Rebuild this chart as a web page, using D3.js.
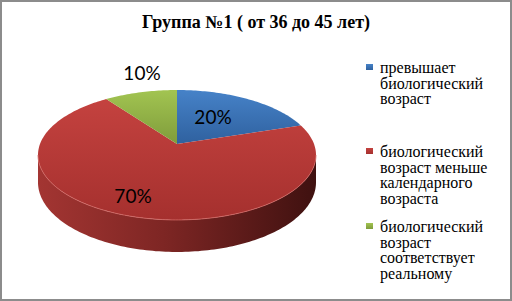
<!DOCTYPE html>
<html>
<head>
<meta charset="utf-8">
<script src="https://cdn.jsdelivr.net/npm/d3@7"></script>
<style>
body { margin: 0; background: #fff; }
</style>
</head>
<body>
<script>
// chart data
var title = "Группа №1 ( от 36 до 45 лет)";
var categories = [
  ["превышает", "биологический", "возраст"],
  ["биологический", "возраст меньше", "календарного", "возраста"],
  ["биологический", "возраст", "соответствует", "реальному"]
];
var values = [20, 70, 10];
var labels = ["20%", "70%", "10%"];

var width = 512, height = 301;
var serif = "'Liberation Serif', serif";

// colours per slice: top light, top dark
var topLight = ["#4682c8", "#c4423f", "#a2c451"];
var topDark  = ["#2f619f", "#a5302e", "#7f9c3b"];

var svg = d3.select("body").append("svg")
  .attr("width", width)
  .attr("height", height);

// frame
svg.append("rect")
  .attr("x", 1).attr("y", 1)
  .attr("width", width - 2).attr("height", height - 2)
  .attr("fill", "#fff")
  .attr("stroke", "#8c8c8c")
  .attr("stroke-width", 2);

svg.append("text")
  .attr("x", 256).attr("y", 28)
  .attr("text-anchor", "middle")
  .attr("font-family", serif)
  .attr("font-size", 18)
  .attr("font-weight", "bold")
  .attr("fill", "#000")
  .text(title);

var defs = svg.append("defs");
values.forEach(function(v, i) {
  var g = defs.append("linearGradient").attr("id", "top" + i)
    .attr("x1", 0).attr("y1", 0).attr("x2", 0).attr("y2", 1);
  g.append("stop").attr("offset", "0%").attr("stop-color", topLight[i]);
  g.append("stop").attr("offset", "100%").attr("stop-color", topDark[i]);
});
var side = defs.append("linearGradient").attr("id", "side")
  .attr("x1", 0).attr("y1", 0).attr("x2", 1).attr("y2", 0);
side.append("stop").attr("offset", "0%").attr("stop-color", "#a33532");
side.append("stop").attr("offset", "45%").attr("stop-color", "#7e2624");
side.append("stop").attr("offset", "100%").attr("stop-color", "#3f1110");

// perspective projection of a flat disc
var cx = 177, cy = 144, A = 137, B = 63.1, p = 0.169, depth = 26.6;
function proj(a, r, down) {
  var w = 1 + p * Math.cos(a) * r;
  return [cx + A * r * Math.sin(a) / w, cy - B * r * Math.cos(a) / w + (down ? depth / w : 0)];
}
function arcPts(a0, a1, down) {
  var n = Math.max(2, Math.ceil(Math.abs(a1 - a0) / 0.02)), pts = [];
  for (var k = 0; k <= n; k++) pts.push(proj(a0 + (a1 - a0) * k / n, 1, down));
  return pts;
}
var line = d3.line();

var arcs = d3.pie().sort(null).value(function(d) { return d; })(values);

// side wall (front, visible part)
var s0 = Math.acos(-p), s1 = 2 * Math.PI - s0;
var sidePts = arcPts(s0, s1, false).concat(arcPts(s1, s0, true));
svg.append("path")
  .attr("d", line(sidePts) + "Z")
  .attr("fill", "url(#side)");

// top faces
svg.selectAll("path.slice")
  .data(arcs)
  .enter().append("path")
  .attr("class", "slice")
  .attr("d", function(d) {
    return line([[cx, cy]].concat(arcPts(d.startAngle, d.endAngle, false))) + "Z";
  })
  .attr("fill", function(d, i) { return "url(#top" + i + ")"; });

// light rim on the front edge
svg.append("path")
  .attr("d", line(arcPts(s0, s1, false)))
  .attr("fill", "none")
  .attr("stroke", "#d36a66")
  .attr("stroke-width", 1)
  .attr("opacity", 0.8);

// data labels
var labelPos = [[213, 124], [133, 203], [142, 80]];
svg.selectAll("text.lbl")
  .data(labels)
  .enter().append("text")
  .attr("class", "lbl")
  .attr("x", function(d, i) { return labelPos[i][0]; })
  .attr("y", function(d, i) { return labelPos[i][1]; })
  .attr("text-anchor", "middle")
  .attr("font-size", 19)
  .attr("font-family", "Lato")
  .attr("fill", "#000")
  .text(function(d) { return d; });

// legend
var legendY = [73, 157, 232];
var lineH = 15.6;
var leg = svg.selectAll("g.leg")
  .data(categories)
  .enter().append("g")
  .attr("class", "leg")
  .attr("transform", function(d, i) { return "translate(366," + legendY[i] + ")"; });
leg.append("rect")
  .attr("x", 0).attr("y", -9)
  .attr("width", 7).attr("height", 6)
  .attr("fill", function(d, i) { return "url(#top" + i + ")"; });
leg.selectAll("text")
  .data(function(d) { return d; })
  .enter().append("text")
  .attr("x", 14)
  .attr("y", function(s, k) { return k * lineH; })
  .attr("font-family", serif)
  .attr("font-weight", "normal")
  .attr("font-size", 16)
  .attr("fill", "#000")
  .text(function(s) { return s; });
</script>
</body>
</html>
